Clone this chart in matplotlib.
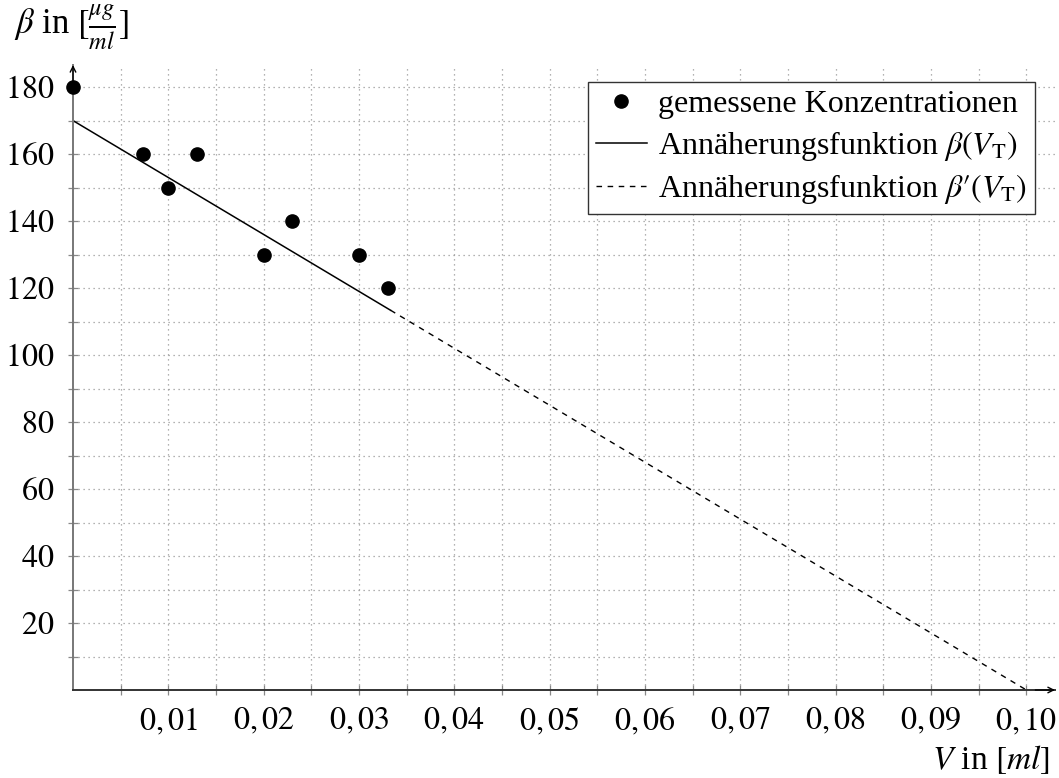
import matplotlib
matplotlib.use("Agg")
import matplotlib.pyplot as plt
import numpy as np
from matplotlib.ticker import FixedLocator

plt.rcParams['font.family'] = ['Liberation Serif', 'DejaVu Serif']
plt.rcParams['mathtext.fontset'] = 'stix'

# measured concentrations
V_meas = [0.0, 0.0073, 0.010, 0.013, 0.020, 0.023, 0.030, 0.033]
beta_meas = [180, 160, 150, 160, 130, 140, 130, 120]

# fitted line beta(V) = b0 + m*V
b0 = 170.0
m = -1700.0
V_fit_end = 0.0333
V_ext_end = 0.10

xticks = [0.01, 0.02, 0.03, 0.04, 0.05, 0.06, 0.07, 0.08, 0.09, 0.10]
xticklabels = ["$0,01$", "$0,02$", "$0,03$", "$0,04$", "$0,05$", "$0,06$", "$0,07$", "$0,08$", "$0,09$", "$0,10$"]
yticks = [20, 40, 60, 80, 100, 120, 140, 160, 180]

fig = plt.figure(figsize=(10.59, 7.78), dpi=100)
ax = fig.add_axes([73/1059, 88/778, 982/1059, 625/778])
ax.set_xlim(0, 0.1030)
ax.set_ylim(0, 186.6)

ax.set_xticks(xticks)
ax.set_xticklabels(xticklabels)
ax.set_yticks(yticks)
ax.set_yticklabels([f"${v}$" for v in yticks])
ax.xaxis.set_minor_locator(FixedLocator(np.arange(0.005, 0.1031, 0.005)))
ax.yaxis.set_minor_locator(FixedLocator(np.arange(10, 181, 10)))

ax.grid(True, which='both', linestyle=(0, (1, 3)), color='#999999', linewidth=0.9)
ax.set_axisbelow(True)

for s in ['top', 'right']:
    ax.spines[s].set_visible(False)
ax.spines['left'].set_color('#777777')
ax.spines['left'].set_linewidth(1.4)
ax.spines['bottom'].set_color('#333333')
ax.spines['bottom'].set_linewidth(1.4)

ax.tick_params(which='both', direction='inout', length=7, width=0.9, color='#888888')
ax.tick_params(axis='both', labelsize=23)
ax.tick_params(axis='y', pad=10)
ax.tick_params(axis='x', pad=8)

# arrows
ax.annotate('', xy=(0, 1.0), xytext=(0, 0.97), xycoords='axes fraction',
            arrowprops=dict(arrowstyle='->', color='black', lw=1.0, shrinkA=0, shrinkB=0))
ax.annotate('', xy=(1.0, 0), xytext=(0.98, 0), xycoords='axes fraction',
            arrowprops=dict(arrowstyle='->', color='black', lw=1.0, shrinkA=0, shrinkB=0))

ax.plot(V_meas, beta_meas, 'o', color='black', markersize=9.5, clip_on=False, zorder=5,
        label='gemessene Konzentrationen')
xf = np.array([0.0, V_fit_end])
ax.plot(xf, b0 + m * xf, '-', color='black', lw=1.1, label=r'Annäherungsfunktion $\beta(V_{\mathrm{T}})$')
xe = np.array([V_fit_end, V_ext_end])
ax.plot(xe, b0 + m * xe, '--', color='black', lw=1.0, dashes=(4, 4),
        label="Annäherungsfunktion $\\beta\u2032(V_{\\mathrm{T}})$")

leg = ax.legend(loc='upper right', bbox_to_anchor=(962/982, 0.973), fontsize=23,
                frameon=True, fancybox=False, edgecolor='#333333', framealpha=1,
                handlelength=1.6, handletextpad=0.35, borderpad=0.25, labelspacing=0.3,
                borderaxespad=0)
leg.get_frame().set_linewidth(1.0)

fig.text(14/1059, 1 - 27/778, r'$\beta$ in $[\frac{\mu g}{ml}]$', fontsize=25, va='center', ha='left')
fig.text(1050/1059, 1 - 760/778, r'$V$ in $[ml]$', fontsize=24, va='center', ha='right')

fig.savefig('out.png', dpi=100)
